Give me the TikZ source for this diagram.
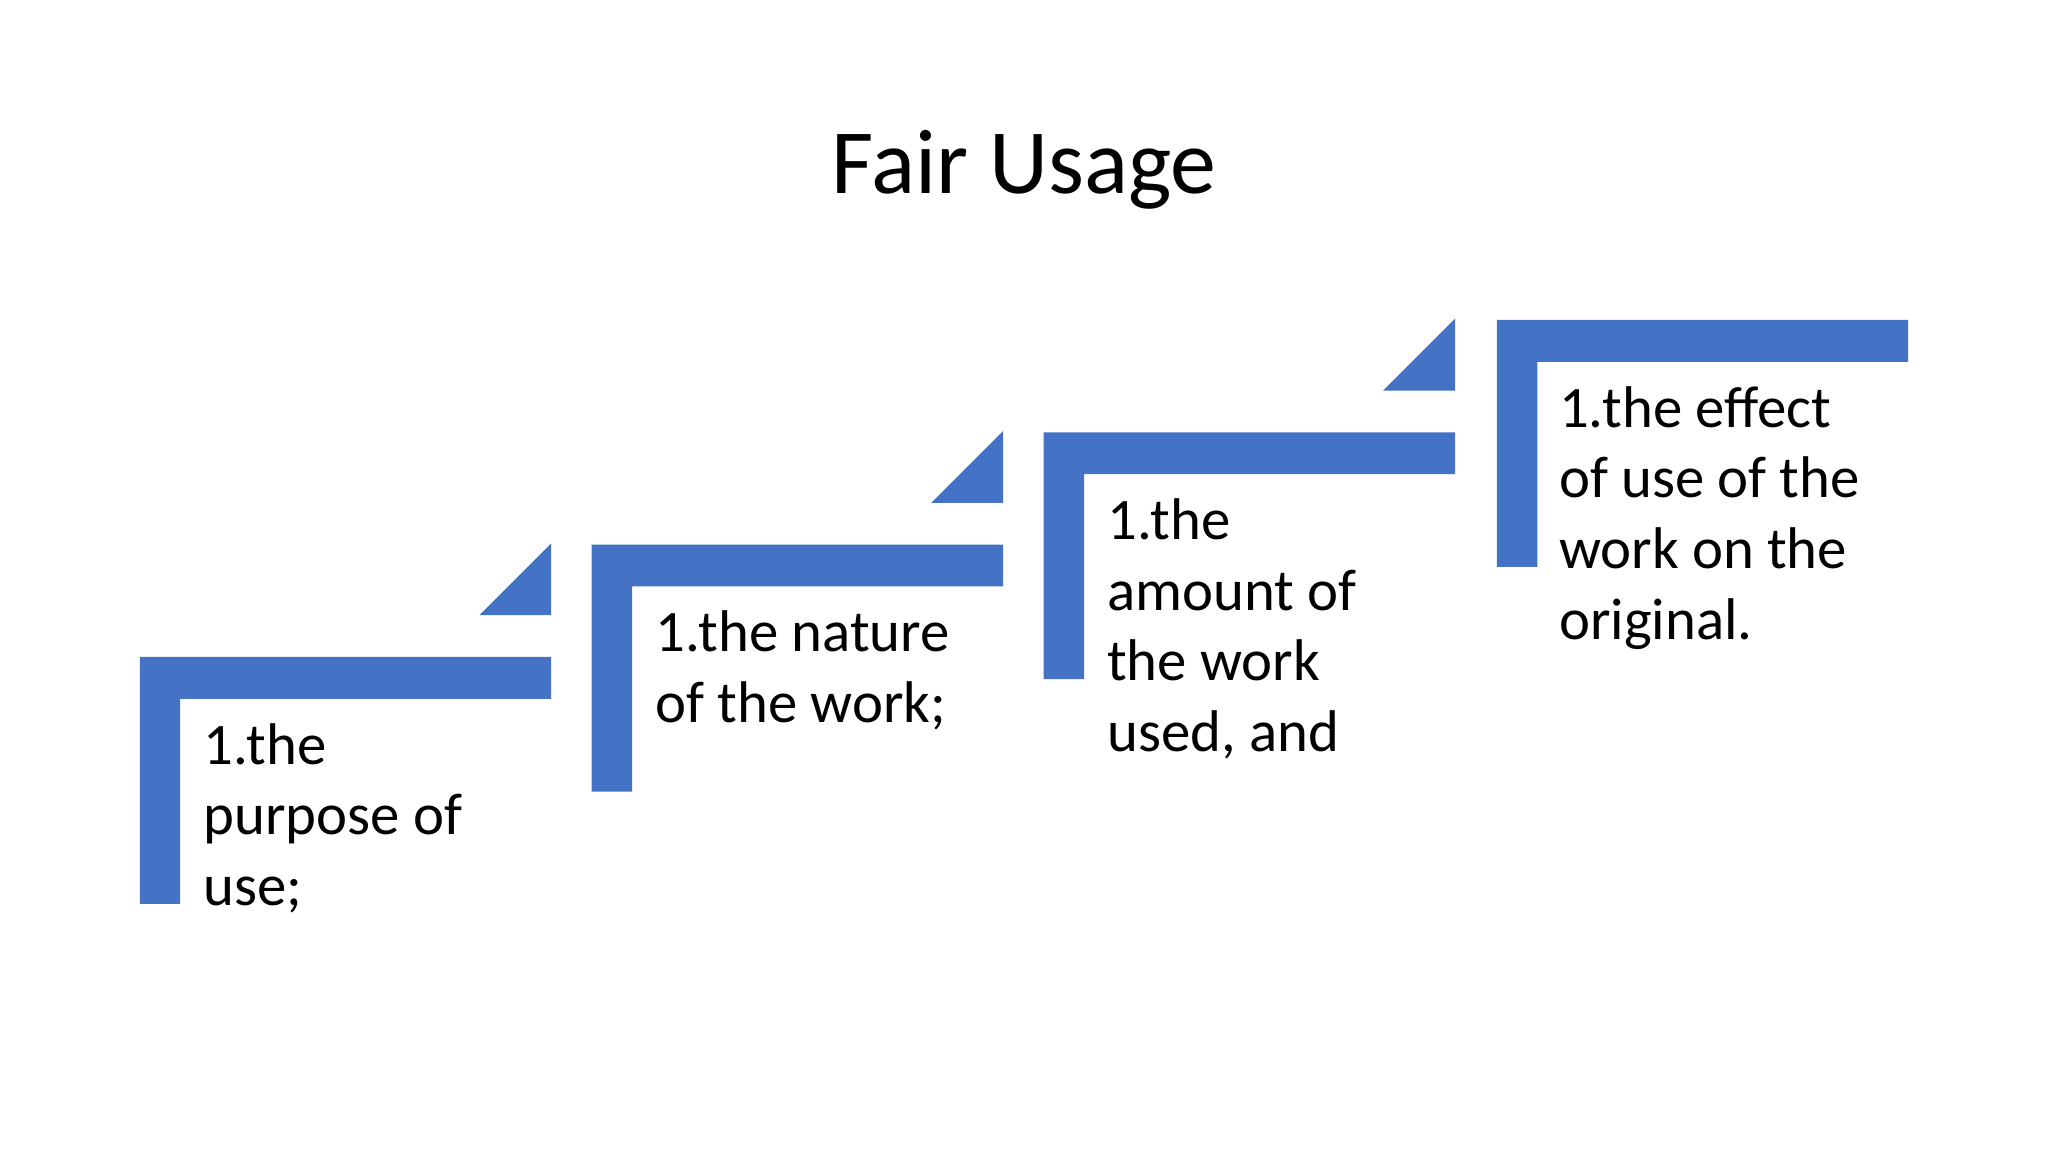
\documentclass[tikz,border=0pt]{standalone}
\usepackage{fontspec}
\setmainfont{Carlito}
\definecolor{stepblue}{HTML}{4472C4}
\begin{document}
\begin{tikzpicture}[x=0.01cm,y=-0.01cm,
  bar/.style={fill=stepblue,draw=none},
  txt/.style={anchor=north west,align=left,inner sep=0pt,font=\fontsize{12.8}{15.4}\selectfont,text=black}]
\useasboundingbox (0,0) rectangle (1568,882);
\node[font=\fontsize{20}{24}\selectfont] (title) at (784,130) {Fair Usage};
\foreach \i/\dx/\dy in {1/0/0,2/346/-86,3/692/-172,4/1039/-258}{
  \fill[bar] (107+\dx,503+\dy) -- (422+\dx,503+\dy) -- (422+\dx,535+\dy) -- (138+\dx,535+\dy) -- (138+\dx,692+\dy) -- (107+\dx,692+\dy) -- cycle;
}
\foreach \dx/\dy in {0/0,346/-86,692/-172}{
  \fill[bar] (367+\dx,471+\dy) -- (422+\dx,471+\dy) -- (422+\dx,416+\dy) -- cycle;
}
\node[txt] (t1) at (155,553) {1.the\\purpose of\\use;};
\node[txt] (t2) at (501,467) {1.the nature\\of the work;};
\node[txt] (t3) at (847,381) {1.the\\amount of\\the work\\used, and};
\node[txt] (t4) at (1193,295) {1.the effect\\of use of the\\work on the\\original.};
\end{tikzpicture}
\end{document}
